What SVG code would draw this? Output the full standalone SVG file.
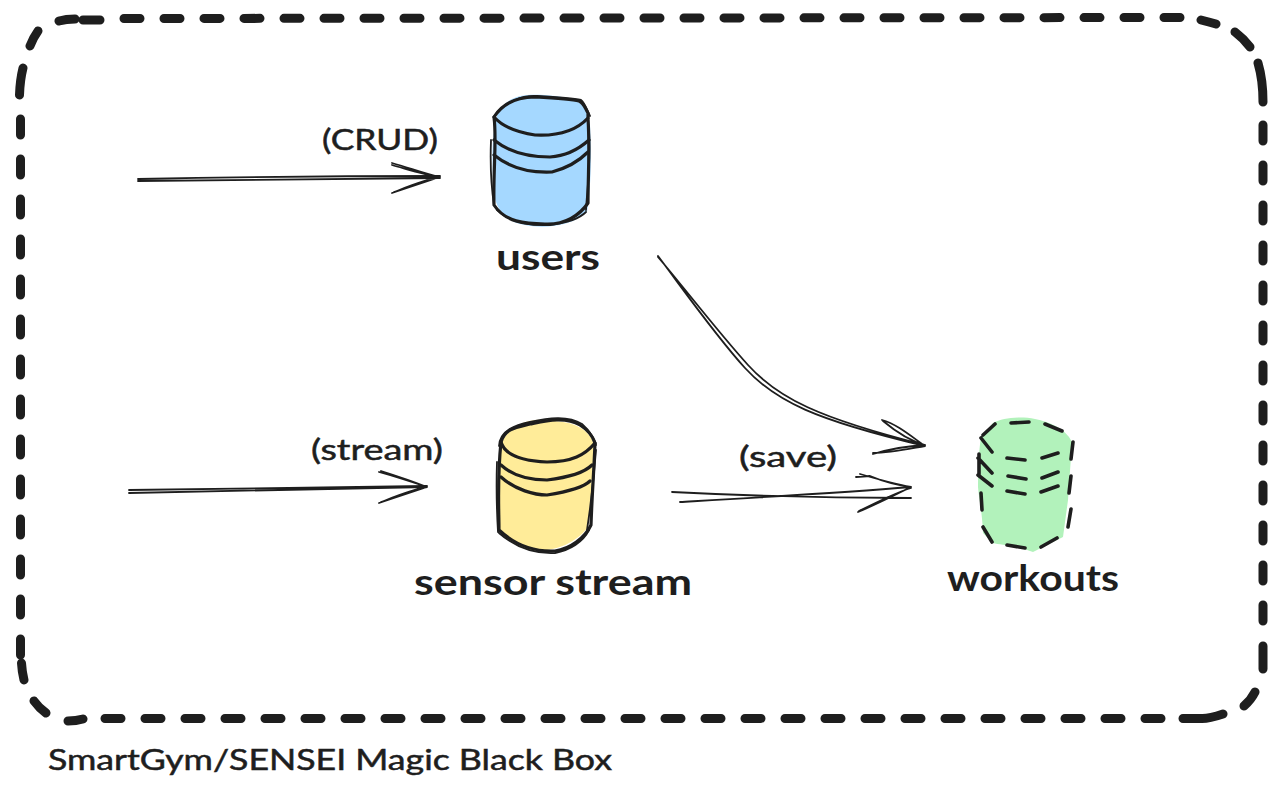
<svg xmlns="http://www.w3.org/2000/svg" width="1285" height="800" viewBox="0 0 1285 800">
<style>
.l{fill:none;stroke:#1e1e1e;stroke-linecap:round;stroke-linejoin:round}
.b{stroke-width:9}
.bd{stroke-width:9;stroke-dasharray:16 24}
.c{stroke-width:3.2}
.c2{stroke-width:1.8}
.a{stroke-width:1.8}
.d{stroke-width:3.6}
.t{font-family:"Lato","Noto Sans",sans-serif;fill:#1e1e1e;font-weight:700}
.s{font-weight:400;stroke:#1e1e1e;stroke-width:.5}
</style>
<rect width="1285" height="800" fill="#fff"/>
<g id="boundary">
<path class="l bd" d="M124 18.5L1180 17.5"/>
<path class="l bd" d="M20.5 119V655"/>
<path class="l bd" d="M1263 125V621"/>
<path class="l bd" d="M105 718.5H1161"/>
<path class="l b" d="M59 21Q66 19 75 19M83 20H100M38 31Q33 38 30 46M23 68Q20 80 19.5 95M21.5 663Q22 672 24 680M34 701Q39 708 46 713M68 721Q76 721 83 719M1183 718.5H1201Q1208 719 1223 714M1244 706Q1251 700 1255 692M1263 646V669M1201 20Q1209 22 1216 24M1235 32Q1243 38 1250 47M1258 63Q1263 80 1263 102"/>
<text class="t s" x="48" y="770" font-size="28" textLength="564" lengthAdjust="spacingAndGlyphs">SmartGym/SENSEI Magic Black Box</text>
</g>
<g id="users">
<path d="M497 115C508 92 530 94 555 96C575 98 588 102 590 125C592 165 590 195 587 212C572 226 545 229 525 225C503 222 492 205 493 180C492 155 492 135 497 115Z" fill="#a5d8ff"/>
<path class="l c" d="M494 117C505 100 522 97 535 97C555 98 572 99 579 101C584 103 585 108 588 113L588 118C575 132 555 136 535 135C515 132 502 126 494 117Z"/>
<path class="l c2" d="M495 115C505 102 522 95 537 96C555 97 572 98 581 100C585 103 587 110 590 116"/>
<path class="l c" d="M494 117C497 140 493 170 494 205C505 222 525 224 545 224C565 225 580 215 588 203C588 175 590 150 588 118"/>
<path class="l c2" d="M491 140C490 165 491 185 494 205M589 130C591 165 587 190 586 210M497 210C510 222 530 226 550 225C565 223 578 220 586 212"/>
<path class="l c" d="M494 140C510 153 530 157 550 157C567 156 580 148 589 140"/>
<path class="l c" d="M494 155C510 168 530 173 552 172C567 168 580 160 588 152"/>
<text class="t" x="496" y="270" font-size="37" textLength="104" lengthAdjust="spacingAndGlyphs">users</text>
</g>
<g id="sensor-stream">
<path d="M500 445C510 425 530 416 550 421C575 421 590 430 594 445C592 480 590 510 588 527C575 545 550 553 530 550C512 546 500 535 498 525C498 495 498 470 500 445Z" fill="#ffec99"/>
<path class="l c" d="M501 442C505 428 518 427 530 424C545 421 565 416 580 425C588 430 593 437 595 443C585 455 572 462 547 462C525 461 505 456 501 442Z"/>
<path class="l c2" d="M499 446C500 430 516 425 530 422C548 418 568 415 582 424C590 431 595 440 596 445"/>
<path class="l c" d="M501 442C497 480 499 510 499 530C515 545 535 552 555 551C570 549 585 538 591 525C592 495 594 470 595 443"/>
<path class="l c2" d="M497 462C496 490 497 515 498 532M596 450C593 490 590 510 587 530M499 533C515 547 535 554 555 553C570 550 583 542 589 530"/>
<path class="l c" d="M501 465C515 478 535 480 547 480C572 477 585 472 592 465"/>
<path class="l c" d="M501 477C515 490 535 495 547 495C572 491 585 486 590 481"/>
<text class="t" x="414" y="595" font-size="37" textLength="278" lengthAdjust="spacingAndGlyphs">sensor stream</text>
</g>
<g id="workouts">
<path d="M981 437L993 423C1003 418 1020 416 1035 419C1050 422 1065 428 1072 442L1068 500L1063 537L1033 552C1015 545 1000 545 993 543L983 533C982 510 979 500 978 487C978 465 979 450 981 437Z" fill="#b2f2bb"/>
<path class="l d" d="M983 435L995 424M981 438L992 452M1011 423L1029 422M1045 424L1062 431M1007 458L1025 460M1042 458L1058 453M1073 442L1071 459M979 454V475M978 458L992 473M978 475L992 486M1008 476L1026 479M1042 478L1058 472M1071 476L1069 493M1007 491L1025 494M1041 492L1058 486M981 493L982 510M1071 509L1068 527M983 527L992 542M1007 545L1025 548M1041 547L1057 538"/>
<text class="t" x="947" y="591" font-size="37" textLength="172" lengthAdjust="spacingAndGlyphs">workouts</text>
</g>
<g id="connectors">
<path class="l a" d="M138 179C240 177 340 176 440 176M138 181C240 180 340 179 440 178M392 163C410 168 425 174 440 177M392 165C410 170 425 175 440 177M392 193C410 187 425 182 440 177M394 192C410 186 425 180 440 177"/>
<path class="l a" d="M129 490C230 488 330 487 427 486M129 493C230 491 330 489 427 487M379 472C397 477 412 482 427 487M381 471C397 476 412 481 427 487M379 503C397 497 412 492 427 487M381 502C397 496 412 490 427 487"/>
<path class="l a" d="M658 256C680 285 715 335 745 368C775 401 815 420 925 446M658 257C682 285 718 332 748 365C778 398 818 418 925 445M882 420C897 424 912 437 925 446M883 421C895 431 910 441 925 445M873 453C890 453 908 449 925 446M873 454C890 449 908 446 925 445"/>
<path class="l a" d="M672 492C750 496 840 498 911 498M680 502C750 498 840 493 911 487M856 477L870 476C882 481 895 485 911 487M860 474C877 479 895 484 911 487M858 512C875 505 895 495 911 487M859 511C875 503 895 493 911 488"/>
</g>
<text class="t s" x="322" y="150" font-size="29" textLength="116" lengthAdjust="spacingAndGlyphs">(CRUD)</text>
<text class="t s" x="311" y="460" font-size="29" textLength="132" lengthAdjust="spacingAndGlyphs">(stream)</text>
<text class="t s" x="739" y="467" font-size="29" textLength="98" lengthAdjust="spacingAndGlyphs">(save)</text>
</svg>
